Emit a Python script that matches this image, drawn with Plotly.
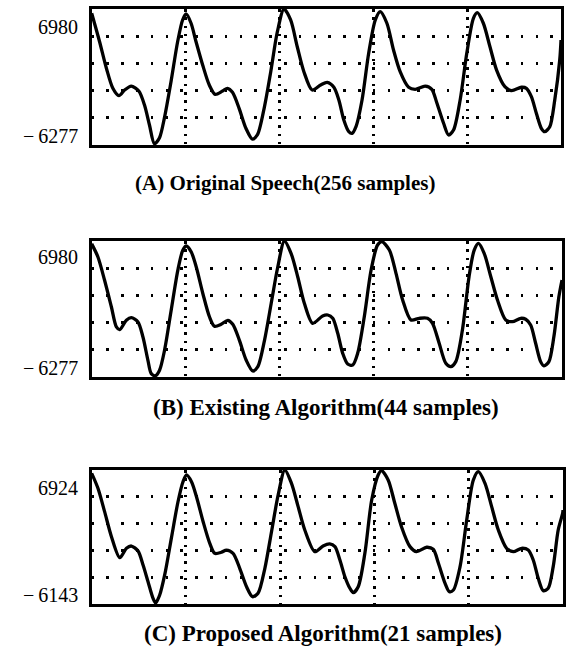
import plotly.graph_objects as go

# ---------------- data ----------------
TITLES = ["(A) Original Speech(256 samples)",
          "(B) Existing Algorithm(44 samples)",
          "(C) Proposed Algorithm(21 samples)"]
Y_MAX = [6980, 6980, 6924]
Y_MIN = [-6277, -6277, -6143]
N_SAMPLES = 256

SAMPLE_A = [0, 4.3, 8.0, 11.5, 14.8, 17.9, 21.5, 25.6, 28.7, 31.4, 34.1, 36.8, 39.5, 43.1, 46.7,
            49.4, 51.3, 54.0, 56.7, 60.3, 63.9, 67.1, 71.1, 73.8, 76.5, 80.1, 83.8, 87.3, 90.0,
            93.7, 97.3, 100.9, 104.5, 108.1, 111.7, 115.3, 119.8, 124.4, 128.0, 131.6, 134.3,
            137.0, 139.7, 141.5, 143.6, 146.9, 150.5, 154.1, 156.8, 160.4, 164.0, 167.6, 172.2,
            175.8, 181.2, 184.8, 187.6, 191.2, 193.9, 196.6, 200.2, 203.8, 207.4, 209.5, 212.8,
            216.4, 220.0, 224.5, 228.1, 233.5, 236.2, 238.9, 241.6, 244.3, 246.1, 248.9, 251.6,
            254.3, 255]
WAVE_A = [6560, 3790, 1200, -750, -1470, -920, -530, -1015, -2380, -4330, -6150, -5600, -3650, -110,
          3790, 5910, 6500, 5590, 3790, 1520, -430, -1340, -1015, -750, -1140, -2700, -4650, -5700,
          -5300, -2700, 870, 4770, 6980, 5910, 3300, 870, -920, -430, -170, -650, -1890, -3840,
          -4980, -5140, -4490, -1890, 2660, 5910, 6720, 5590, 2980, 870, -650, -850, -530, -850,
          -2210, -4160, -5300, -4820, -1890, 2660, 6070, 6620, 5590, 3300, 1030, -590, -980, -650,
          -750, -1570, -3190, -4650, -4980, -4490, -1890, 2010, 3960]

SAMPLE_B = [0, 3.4, 7.0, 10.7, 13.4, 15.2, 18.8, 21.5, 25.1, 27.8, 30.5, 32.3, 34.6, 36.8, 39.5,
            43.1, 46.7, 49.4, 51.3, 54.0, 56.7, 60.3, 63.9, 66.6, 70.2, 73.8, 76.5, 80.1, 83.8,
            87.3, 90.0, 93.7, 97.3, 100.9, 104.5, 108.1, 111.7, 115.3, 119.8, 125.2, 128.0, 130.7,
            133.4, 136.1, 138.8, 141.5, 144.2, 147.8, 151.5, 155.0, 157.4, 161.4, 165.0, 168.6,
            173.1, 177.6, 182.1, 184.8, 188.4, 192.0, 194.7, 197.4, 201.0, 204.6, 207.4, 209.7,
            212.8, 216.4, 220.0, 224.5, 228.1, 232.6, 235.3, 238.0, 240.7, 243.4, 245.2, 247.9,
            250.6, 253.3, 255]
WAVE_B = [6700, 5420, 3150, 547, -1400, -1666, -750, -496, -916, -2380, -4650, -5950, -6150, -5620,
          -3675, 225, 4124, 6073, 6493, 5908, 4446, 1843, -428, -1335, -1140, -750, -1140, -2700,
          -4650, -5690, -5300, -2700, 868, 4446, 6980, 5780, 3500, 907, -1042, -330, -233, -553,
          -2020, -3970, -5010, -5110, -3970, -400, 4150, 6590, 6910, 6100, 3830, 1230, -720, -555,
          -555, -1040, -2990, -4940, -5270, -4780, -1700, 3500, 6100, 6750, 5780, 3500, 1230,
          -720, -885, -555, -650, -1210, -2990, -4780, -5200, -4780, -2340, 1550, 3180]

SAMPLE_C = [0, 3.4, 7.0, 10.7, 15.2, 18.8, 21.5, 25.1, 27.8, 30.5, 33.2, 34.6, 36.8, 39.5, 43.1,
            46.7, 49.4, 51.3, 54.0, 56.7, 60.3, 63.9, 66.6, 70.2, 72.9, 76.5, 80.1, 83.8, 87.0,
            90.0, 93.7, 97.3, 100.9, 104.5, 108.1, 111.7, 115.3, 120.7, 125.2, 128.8, 131.6,
            134.3, 137.0, 139.7, 141.5, 144.2, 147.8, 151.5, 155.0, 156.8, 160.4, 164.0, 167.6,
            172.2, 175.8, 181.2, 184.8, 187.6, 191.2, 193.5, 195.7, 199.3, 202.9, 206.5, 209.2,
            212.8, 216.4, 220.0, 224.5, 228.1, 232.6, 236.2, 238.9, 241.6, 244.3, 247.0, 249.7,
            252.4, 254.8, 255]
WAVE_C = [6600, 5140, 2860, 420, -1630, -710, -490, -975, -2340, -3970, -5590, -6050, -5270, -3310,
          260, 3830, 5780, 6440, 5780, 4320, 1880, -230, -1200, -1100, -880, -1200, -2660, -4460,
          -5430, -5100, -2660, 910, 4490, 6924, 5620, 3350, 1070, -1040, -490, -290, -550, -1850,
          -3480, -4610, -5040, -4460, -1200, 4000, 6440, 6860, 5950, 3680, 1400, -550, -1040, -610,
          -810, -2170, -4130, -4940, -4780, -2500, 2050, 5950, 6760, 5620, 3350, 1070, -710, -1040,
          -710, -880, -1850, -3640, -4840, -4610, -2500, 1070, 2700, 3020]

SAMPLES = [SAMPLE_A, SAMPLE_B, SAMPLE_C]
WAVES = [WAVE_A, WAVE_B, WAVE_C]

# ---------------- layout geometry (pixels of the 566x651 page) ----------------
W, H = 566, 651
BOX_LEFT = 92
BOX_RIGHT = [563, 564, 565]
BOX_TOP = [9, 241, 470]
BOX_BOTTOM = [145, 377, 604]
LABEL_SHIFT_TOP = [-18, -16, -18]
LABEL_SHIFT_BOTTOM = [9, 9, 9]
TITLE_X = [286, 327, 324]
TITLE_Y = [183, 407, 633]
TITLE_SIZE = [21, 23, 23]

FONT = "Liberation Serif"
fig = go.Figure()
annotations = []
N_DIV = 5

for i in range(3):
    xa = "x" if i == 0 else f"x{i+1}"
    ya = "y" if i == 0 else f"y{i+1}"
    fig.add_trace(go.Scatter(
        x=SAMPLES[i], y=WAVES[i], xaxis=xa, yaxis=ya, mode="lines",
        line=dict(color="black", width=3.3, shape="spline", smoothing=0.8),
        showlegend=False, hoverinfo="skip"))

    ymin, ymax = Y_MIN[i], Y_MAX[i]
    xmax = N_SAMPLES - 1
    xgrid = [xmax * k / N_DIV for k in range(1, N_DIV)]
    ygrid = [ymin + (ymax - ymin) * k / N_DIV for k in range(1, N_DIV)]

    key = "" if i == 0 else str(i + 1)
    fig.layout["xaxis" + key] = dict(
        domain=[BOX_LEFT / W, BOX_RIGHT[i] / W], range=[0, xmax], anchor=ya,
        showline=True, mirror=True, linecolor="black", linewidth=3,
        tickmode="array", tickvals=xgrid, showticklabels=False, ticks="",
        showgrid=True, gridcolor="black", gridwidth=2.5, griddash="2.5px,5.8px",
        zeroline=False, fixedrange=True)
    fig.layout["yaxis" + key] = dict(
        domain=[1 - BOX_BOTTOM[i] / H, 1 - BOX_TOP[i] / H], range=[ymin, ymax], anchor=xa,
        showline=True, mirror=True, linecolor="black", linewidth=3,
        tickmode="array", tickvals=ygrid, showticklabels=False, ticks="",
        showgrid=True, gridcolor="black", gridwidth=2.5, griddash="2.5px,12.3px",
        zeroline=False, fixedrange=True)

    annotations.append(dict(
        text=str(ymax), xref="paper", x=80 / W, xanchor="right",
        yref=ya, y=ymax, yanchor="middle", yshift=LABEL_SHIFT_TOP[i],
        showarrow=False, font=dict(family=FONT, size=20, color="black")))
    annotations.append(dict(
        text="\u2212\u2009" + str(abs(ymin)), xref="paper", x=80 / W, xanchor="right",
        yref=ya, y=ymin, yanchor="middle", yshift=LABEL_SHIFT_BOTTOM[i],
        showarrow=False, font=dict(family=FONT, size=20, color="black")))
    annotations.append(dict(
        text=TITLES[i], xref="paper", x=TITLE_X[i] / W, xanchor="center",
        yref="paper", y=1 - TITLE_Y[i] / H, yanchor="middle",
        showarrow=False, font=dict(family=FONT, size=TITLE_SIZE[i], color="black", weight="bold")))

fig.update_layout(
    width=W, height=H, margin=dict(l=0, r=0, t=0, b=0),
    paper_bgcolor="white", plot_bgcolor="white",
    annotations=annotations, showlegend=False)

fig.write_html(
    "out.html", config={"displayModeBar": False},
    post_script="document.body.style.margin='0';document.body.style.overflow='hidden';")
